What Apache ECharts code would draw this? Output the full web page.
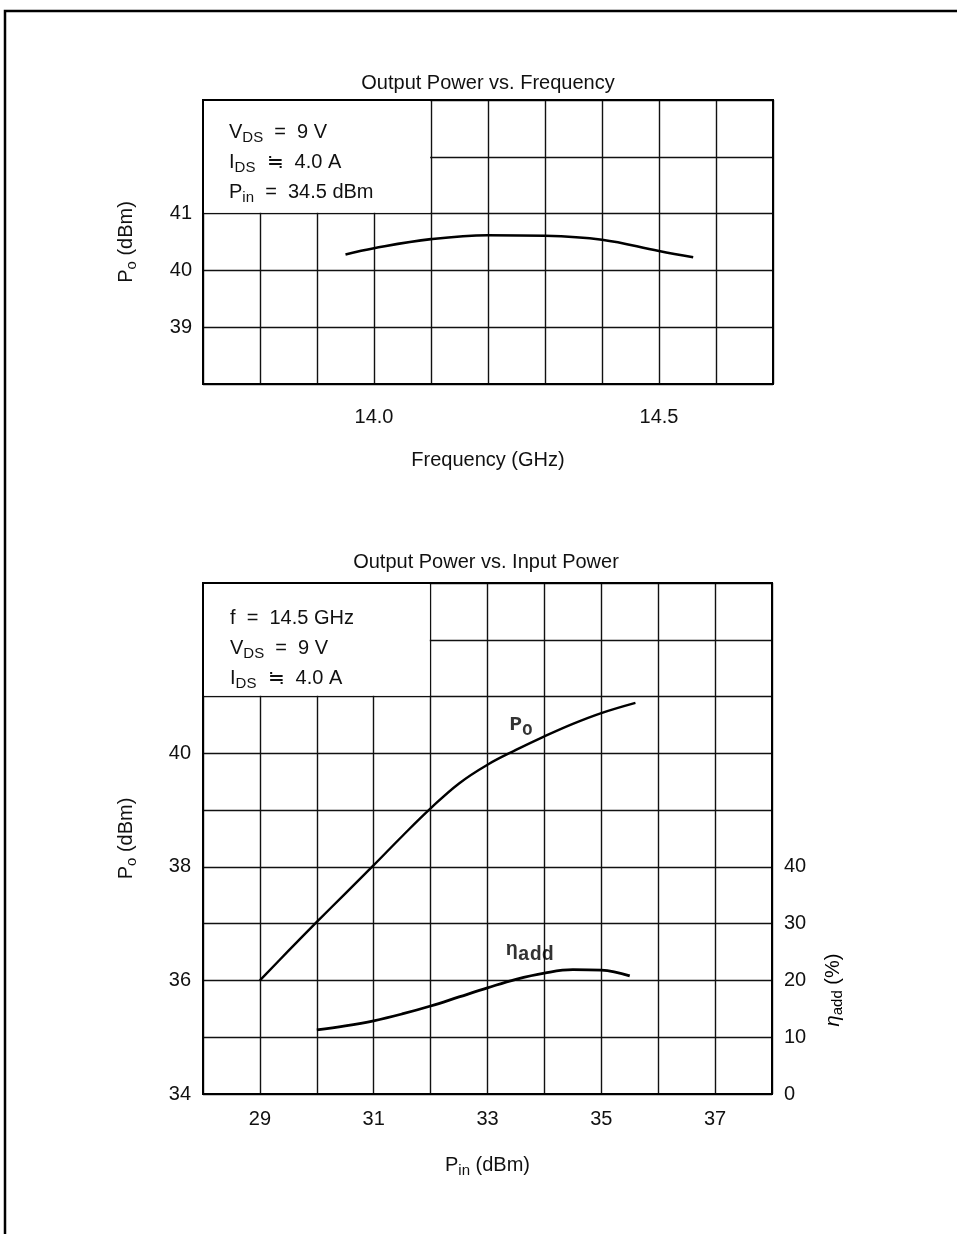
<!DOCTYPE html>
<html>
<head>
<meta charset="utf-8">
<script src="https://cdn.jsdelivr.net/npm/echarts@6/dist/echarts.min.js"></script>
<style>
html,body{margin:0;padding:0;background:#fff;}
#chart{width:957px;height:1234px;}
</style>
</head>
<body>
<div id="chart"></div>
<script>
// ---------- DATA ----------
// Top chart: Output Power vs. Frequency
const freqGHz   = [13.95, 14.0, 14.1, 14.2, 14.3, 14.4, 14.5, 14.56];
const poVsFreq  = [40.28, 40.39, 40.55, 40.62, 40.61, 40.54, 40.34, 40.23];
const freqTickLabels = ['14.0', '14.5'];
const poTopTickLabels = ['39', '40', '41'];

// Bottom chart: Output Power vs. Input Power
const pinPo   = [29, 29.5, 30, 30.5, 31, 31.5, 32, 32.5, 33, 33.5, 34, 34.5, 35, 35.6];
const poVsPin = [36.0, 36.52, 37.03, 37.53, 38.03, 38.54, 39.03, 39.47, 39.8, 40.06, 40.3, 40.52, 40.71, 40.89];
const pinEta  = [30, 30.5, 31, 31.5, 32, 32.5, 33, 33.5, 34, 34.5, 35, 35.5];
const etaAdd  = [11.3, 12.0, 12.9, 14.1, 15.5, 17.1, 18.7, 20.2, 21.3, 21.9, 21.8, 20.8];
const pinTickLabels = ['29', '31', '33', '35', '37'];
const poBotTickLabels = ['34', '36', '38', '40'];
const etaTickLabels = ['0', '10', '20', '30', '40'];

// curve label anchors (data coords)
const poLabelAt  = [33.38, 40.5];
const etaLabelAt = [33.31, 25.3];

// ---------- CHART ----------
const FONT = "'Liberation Sans', Arial, Helvetica, sans-serif";
const MONO = "'Liberation Mono', 'Courier New', monospace";
const INK = '#111';
const FS = 20;
const fmt = (arr) => (v) => {
  const s1 = (Math.round(v * 10) / 10).toFixed(1);
  const s0 = String(Math.round(v));
  if (arr.includes(s1)) return s1;
  if (Math.abs(v - Math.round(v)) < 1e-6 && arr.includes(s0)) return s0;
  return '';
};
const gridLine = { show: true, lineStyle: { color: '#111', width: 1.4 } };
const txt = { color: INK, fontFamily: FONT, fontSize: FS };
const subRich = {
  m: { fontSize: FS, fontFamily: FONT, color: INK },
  s: { fontSize: 15, fontFamily: FONT, color: INK, padding: [11, 0, 0, 0] }
};
const chart = echarts.init(document.getElementById('chart'), null, { renderer: 'canvas' });

function annot(x, y, text) {
  return {
    type: 'text', x: x, y: y, z: 100,
    style: { text: text, rich: subRich, fontSize: FS, fontFamily: FONT, fill: INK, verticalAlign: 'middle', align: 'left' }
  };
}

const option = {
  backgroundColor: '#fff',
  animation: false,
  title: [
    { text: 'Output Power vs. Frequency', left: 483, top: 68, textAlign: 'center',
      textStyle: { color: INK, fontFamily: FONT, fontSize: FS, fontWeight: 'normal' } },
    { text: 'Output Power vs. Input Power', left: 481, top: 547, textAlign: 'center',
      textStyle: { color: INK, fontFamily: FONT, fontSize: FS, fontWeight: 'normal' } }
  ],
  grid: [
    { left: 203, right: 184, top: 100, bottom: 850, show: true, borderColor: '#000', borderWidth: 2, z: 10, backgroundColor: 'transparent' },
    { left: 203, right: 185, top: 583, bottom: 140, show: true, borderColor: '#000', borderWidth: 2, z: 10, backgroundColor: 'transparent' }
  ],
  xAxis: [
    { type: 'value', gridIndex: 0, min: 13.7, max: 14.7, interval: 0.1,
      axisLine: { show: false }, axisTick: { show: false }, splitLine: gridLine,
      axisLabel: { ...txt, margin: 23, formatter: fmt(freqTickLabels), showMinLabel: true, showMaxLabel: true },
      name: 'Frequency (GHz)', nameLocation: 'middle', nameGap: 66, nameTextStyle: txt },
    { type: 'value', gridIndex: 1, min: 28, max: 38, interval: 1,
      axisLine: { show: false }, axisTick: { show: false }, splitLine: gridLine,
      axisLabel: { ...txt, margin: 15, formatter: fmt(pinTickLabels) },
      name: '{m|P}{s|in}{m| (dBm)}', nameLocation: 'middle', nameGap: 58,
      nameTextStyle: { ...txt, rich: subRich } }
  ],
  yAxis: [
    { type: 'value', gridIndex: 0, min: 38, max: 43, interval: 1,
      axisLine: { show: false }, axisTick: { show: false }, splitLine: gridLine,
      axisLabel: { ...txt, margin: 11, formatter: fmt(poTopTickLabels) },
      name: '{m|P}{s|o}{m| (dBm)}', nameLocation: 'middle', nameGap: 64,
      nameTextStyle: { ...txt, rich: subRich } },
    { type: 'value', gridIndex: 1, min: 34, max: 43, interval: 1,
      axisLine: { show: false }, axisTick: { show: false }, splitLine: gridLine,
      axisLabel: { ...txt, margin: 12, formatter: fmt(poBotTickLabels) },
      name: '{m|P}{s|o}{m| (dBm)}', nameLocation: 'middle', nameGap: 64,
      nameTextStyle: { ...txt, rich: subRich } },
    { type: 'value', gridIndex: 1, position: 'right', min: 0, max: 90, interval: 10,
      axisLine: { show: false }, axisTick: { show: false }, splitLine: { show: false },
      axisLabel: { ...txt, margin: 12, padding: [20, 0, 0, 0], formatter: fmt(etaTickLabels) } }
  ],
  series: [
    { type: 'line', xAxisIndex: 0, yAxisIndex: 0, smooth: 0.4, symbol: 'none', z: 5,
      lineStyle: { color: '#000', width: 2.6 },
      data: freqGHz.map((f, i) => [f, poVsFreq[i]]),
      markArea: { silent: true, itemStyle: { color: '#fff', borderWidth: 0 },
        data: [[{ coord: [13.7, 41.015] }, { coord: [14.0985, 43] }]] } },
    { type: 'line', xAxisIndex: 1, yAxisIndex: 1, smooth: 0.4, symbol: 'none', z: 5,
      lineStyle: { color: '#000', width: 2.4 },
      data: pinPo.map((p, i) => [p, poVsPin[i]]),
      markArea: { silent: true, itemStyle: { color: '#fff', borderWidth: 0 },
        data: [[{ coord: [28, 41.015] }, { coord: [31.985, 43] }]] } },
    { type: 'line', xAxisIndex: 1, yAxisIndex: 2, smooth: 0.4, symbol: 'none', z: 5,
      lineStyle: { color: '#000', width: 2.8 },
      data: pinEta.map((p, i) => [p, etaAdd[i]]) },
    { type: 'scatter', xAxisIndex: 1, yAxisIndex: 1, symbolSize: 1, z: 6,
      itemStyle: { color: 'rgba(0,0,0,0)' },
      label: { show: true, position: 'right', distance: 0, formatter: '{p|P}{q|O}',
        rich: { p: { fontFamily: MONO, fontSize: 21, fontWeight: 'bold', color: '#000' },
                q: { fontFamily: MONO, fontSize: 17, fontWeight: 'bold', color: '#000', padding: [12, 0, 0, 0] } } },
      data: [poLabelAt] },
    { type: 'scatter', xAxisIndex: 1, yAxisIndex: 2, symbolSize: 1, z: 6,
      itemStyle: { color: 'rgba(0,0,0,0)' },
      label: { show: true, position: 'right', distance: 0, formatter: '{p|η}{q|add}',
        rich: { p: { fontFamily: MONO, fontSize: 20, fontWeight: 'bold', color: '#000' },
                q: { fontFamily: MONO, fontSize: 20, fontWeight: 'bold', color: '#000', padding: [10, 0, 0, 0] } } },
      data: [etaLabelAt] }
  ],
  graphic: [
    { type: 'rect', z: 100, shape: { x: 5, y: 11, width: 1100, height: 1400 },
      style: { fill: 'none', stroke: '#000', lineWidth: 2.5 } },
    annot(229, 132, '{m|V}{s|DS}{m|  =  9 V}'),
    annot(229, 162, '{m|I}{s|DS}{m|  ≒  4.0 A}'),
    annot(229, 192, '{m|P}{s|in}{m|  =  34.5 dBm}'),
    annot(230, 618, '{m|f  =  14.5 GHz}'),
    annot(230, 648, '{m|V}{s|DS}{m|  =  9 V}'),
    annot(230, 678, '{m|I}{s|DS}{m|  ≒  4.0 A}'),
    { type: 'text', x: 833, y: 990, rotation: Math.PI / 2, z: 100,
      style: { text: '{e|η}{s|add}{m| (%)}', align: 'center', verticalAlign: 'middle',
        rich: { e: { fontSize: FS, fontFamily: FONT, fontStyle: 'italic', color: INK },
                s: { fontSize: 15, fontFamily: FONT, color: INK, padding: [10, 0, 0, 0] },
                m: { fontSize: FS, fontFamily: FONT, color: INK } } } }
  ]
};
chart.setOption(option);
</script>
</body>
</html>
